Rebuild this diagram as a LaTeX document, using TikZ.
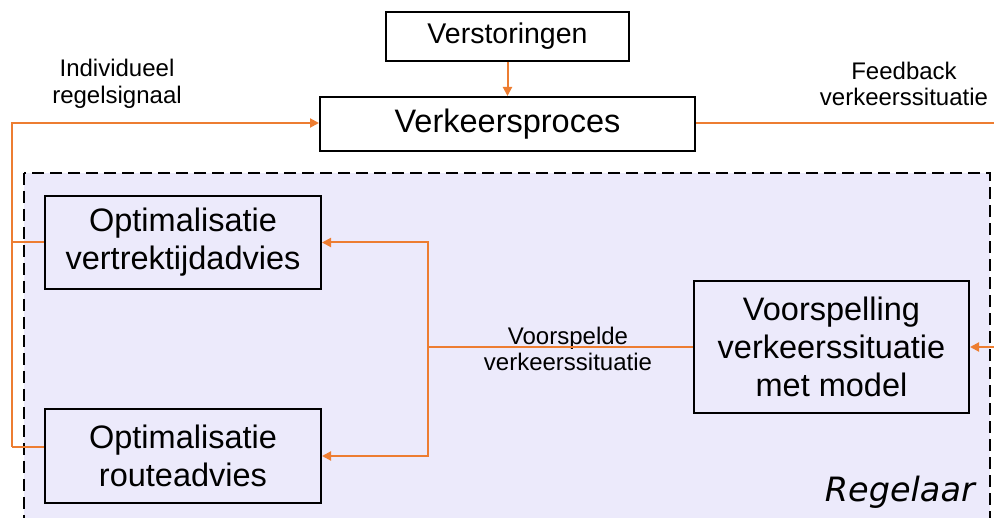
\documentclass[tikz,border=0pt]{standalone}
\usepackage{fontspec}
\setmainfont{Liberation Sans}
\newfontfamily\regfont{DejaVu Sans}
\usetikzlibrary{arrows.meta}
\definecolor{orng}{HTML}{ED7D31}
\definecolor{lav}{HTML}{ECEAFB}
\begin{document}
\begin{tikzpicture}[x=1pt,y=-1pt,
  blk/.style={draw=black, line width=2pt, inner sep=0pt, align=center},
  bigtxt/.style={font=\fontsize{32.5}{38}\selectfont},
  midtxt/.style={font=\fontsize{28.5}{32}\selectfont},
  lbl/.style={font=\fontsize{24}{26.5}\selectfont, align=center, inner sep=0pt},
  oline/.style={draw=orng, line width=2pt},
  oarrow/.style={draw=orng, line width=2pt, -{Triangle[length=9pt,width=9pt]}},
  regbox/.style={draw=black, line width=2pt, dash pattern=on 12pt off 6pt, fill=lav}
]
\useasboundingbox (0,0) rectangle (994,518);
\clip (0,0) rectangle (994,518);
\fill[white] (0,0) rectangle (994,518);
\draw[regbox] (24,173) rectangle (990,540);

\node[blk, midtxt, fill=white, minimum width=243pt, minimum height=49pt] (vs) at (507.5,36.5) {Verstoringen};
\node[blk, bigtxt, fill=white, minimum width=375pt, minimum height=54pt] (vp) at (507.5,124) {Verkeersproces};
\node[blk, bigtxt, minimum width=276pt, minimum height=93pt] (ov) at (183,242.5) {Optimalisatie\\vertrektijdadvies};
\node[blk, bigtxt, minimum width=276pt, minimum height=94pt] (or) at (183,456) {Optimalisatie\\routeadvies};
\node[blk, bigtxt, minimum width=275pt, minimum height=132pt] (vm) at (831.5,347) {Voorspelling\\verkeerssituatie\\met model};

\node[lbl] (l1) at (117,84) {Individueel\\regelsignaal};
\node[lbl] (l2) at (904,84) {Feedback\\verkeerssituatie};
\node[lbl] (l3) at (568,349) {Voorspelde\\verkeerssituatie};
\node[anchor=base east, inner sep=0pt, font=\regfont\itshape\fontsize{33.5}{38}\selectfont] (reg) at (975,502) {Regelaar};

\coordinate (fl) at (12,123);
\coordinate (fb) at (12,447);
\coordinate (fr) at (996,123);
\coordinate (in) at (996,347);
\coordinate (sp) at (428,347);

\draw[oarrow] (vs.south) -- (vp.north);
\draw[oarrow] (fb) -- (fl) -- (vp.west |- fl);
\draw[oline] (ov.west) -- (ov.west -| fl);
\draw[oline] (or.west |- fb) -- (fb);
\draw[oline] (vp.east |- fr) -- (fr);
\draw[oarrow] (in) -- (vm.east);
\draw[oline] (vm.west) -- (sp);
\draw[oarrow] (sp) |- (ov.east);
\draw[oarrow] (sp) |- (or.east);
\end{tikzpicture}
\end{document}
